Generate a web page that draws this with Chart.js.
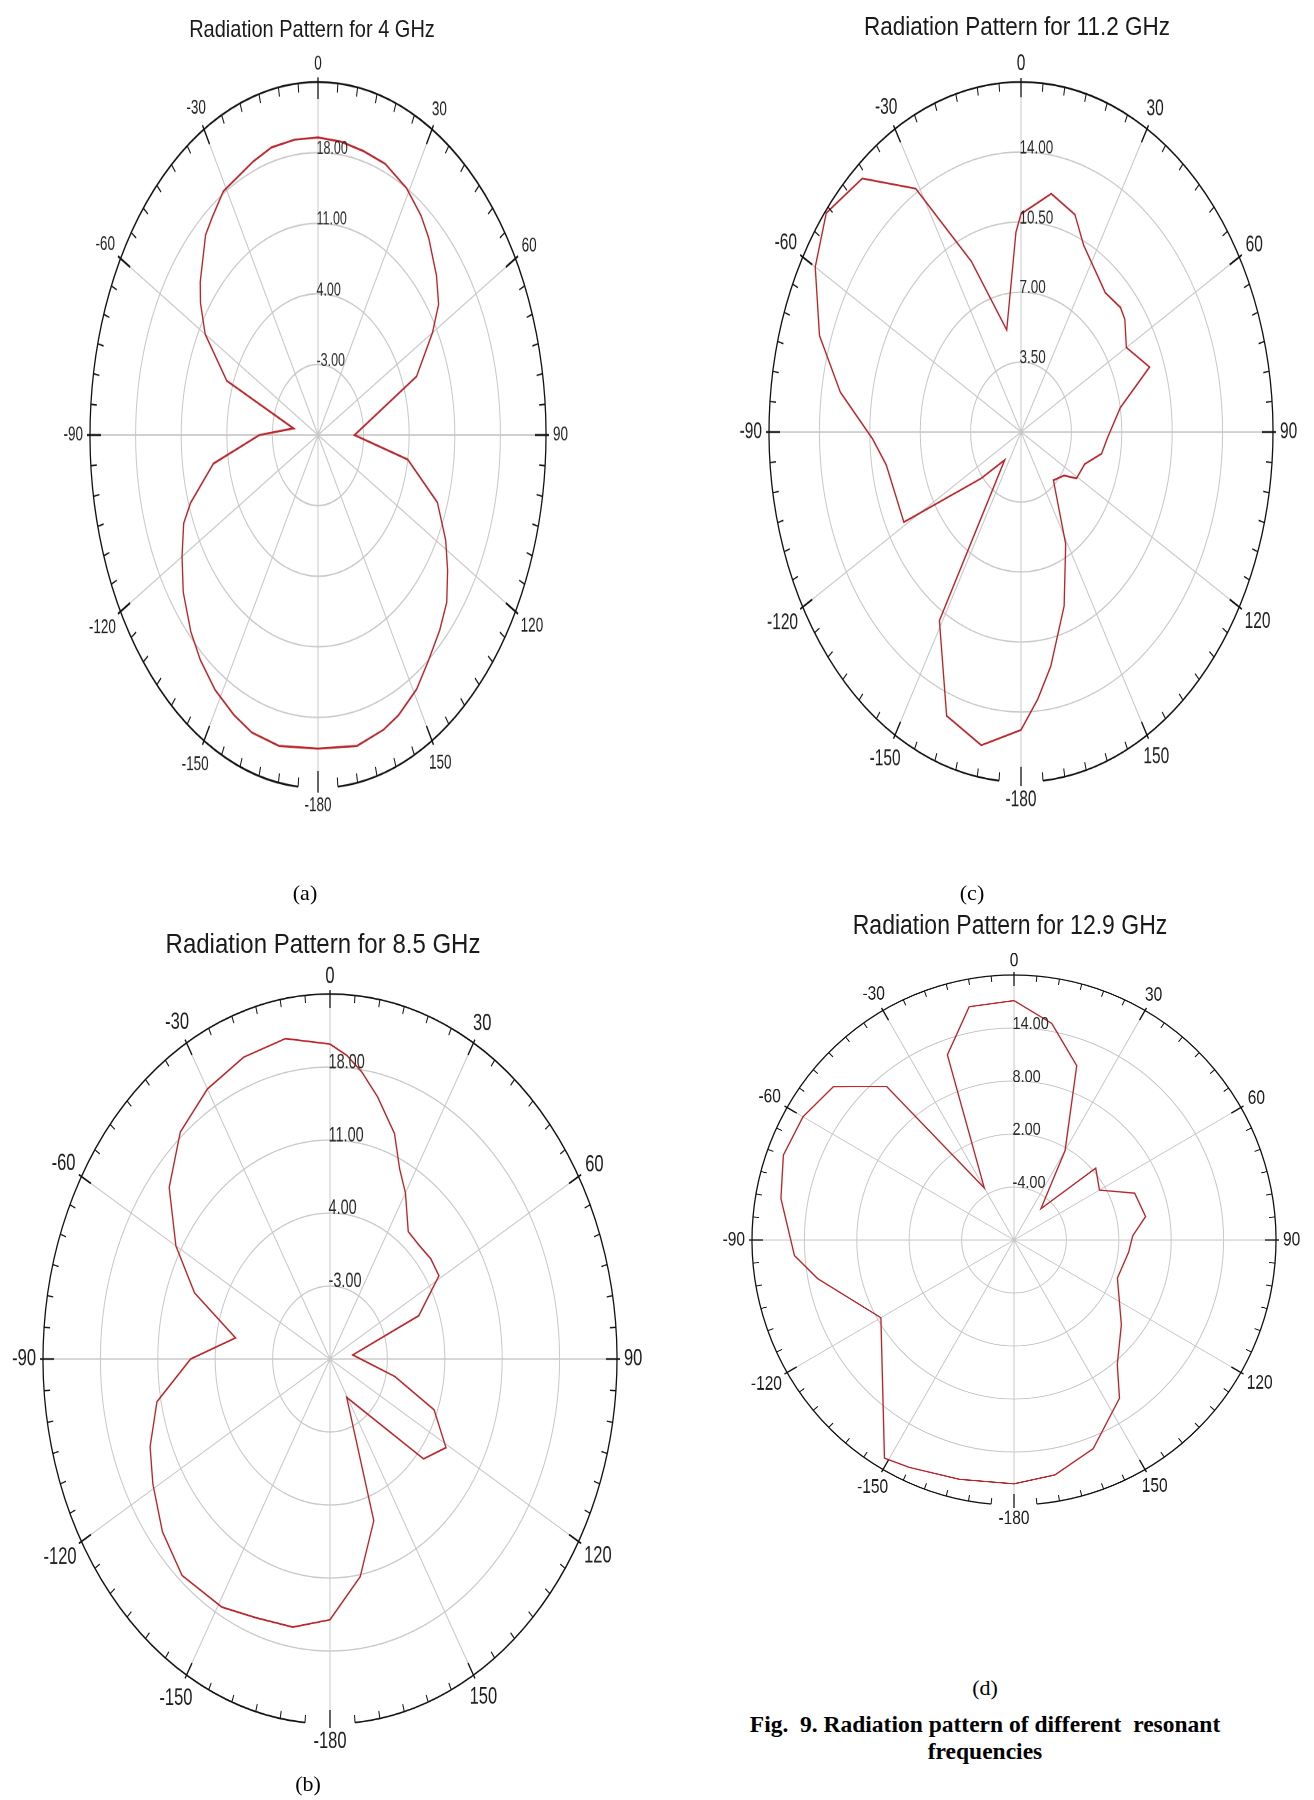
<!DOCTYPE html>
<html>
<head>
<meta charset="utf-8">
<script src="https://cdn.jsdelivr.net/npm/chart.js@4.4.1/dist/chart.umd.min.js"></script>
<style>
html,body{margin:0;padding:0;background:#ffffff;}
body{width:1314px;height:1800px;position:relative;overflow:hidden;}
canvas.polar{position:absolute;}
.ttl{position:absolute;font-family:'Liberation Sans',Arial,sans-serif;color:#1a1a1a;white-space:nowrap;}
.cap{position:absolute;font-family:'Liberation Serif','Times New Roman',serif;color:#000;white-space:pre;transform:translate(-50%,-50%);}
</style>
</head>
<body>
<script>
// ---------- shared angular labels ----------
const DEG_LABELS = Array.from({length: 360}, (_, i) => String(i));
const ANGLE_TICK_DEG  = [0, 30, 60, 90, 120, 150, 180, 210, 240, 270, 300, 330];
const ANGLE_TICK_TEXT = ['0', '30', '60', '90', '120', '150', '-180', '-150', '-120', '-90', '-60', '-30'];

// ---------- (a) 4 GHz ----------
const A_TITLE = 'Radiation Pattern for 4 GHz';
const A_MIN = -10, A_MAX = 25, A_STEP = 7;
const A_RING_TEXT = ['-3.00', '4.00', '11.00', '18.00'];
const A_ANGLES = [0, 7, 14, 21, 29, 36, 41, 49, 55, 60, 69, 90, 100, 110, 118, 124, 130, 136, 143, 149,
                  156, 161, 169, 180, -169, -161, -155, -148, -141, -135, -127, -120, -113, -109, -100, -90, -80, -69, -60, -54,
                  -50, -41, -37, -31, -20, -14, -7];
const A_GAIN   = [19.5, 19.3, 19.0, 18.8, 18.0, 16.9, 15.9, 14.1, 12.6, 10.3, 6.2, -4.4, 4.0, 9.5, 12.2, 14.0, 15.8, 16.9, 18.1, 19.4,
                  20.4, 20.9, 21.4, 21.1, 21.4, 21.2, 20.6, 19.8, 18.7, 17.6, 15.9, 14.1, 12.4, 10.7, 6.3, -1.0, -6.2, 5.0, 10.0, 12.3,
                  13.6, 16.3, 17.0, 18.2, 18.9, 19.4, 19.5];

// ---------- (c) 11.2 GHz ----------
const C_TITLE = 'Radiation Pattern for 11.2 GHz';
const C_MIN = 0, C_MAX = 17.5, C_STEP = 3.5;
const C_RING_TEXT = ['3.50', '7.00', '10.50', '14.00'];
const C_ANGLES = [0, 10, 19, 25, 35, 40, 48, 52, 60, 70, 80, 93, 101, 110, 121, 126, 137, 151, 161, 170,
                  175, 180, -170, -160, -149, -141, -130, -119, -100, -92, -81, -71, -60, -51, -41, -31, -22, -11, -2];
const C_GAIN   = [10.9, 12.1, 11.5, 10.3, 9.4, 9.1, 9.3, 9.15, 8.45, 9.5, 7.0, 6.0, 5.7, 4.7, 4.5, 3.7, 3.3, 6.4, 9.2, 11.9,
                  13.4, 14.9, 15.9, 15.1, 11.0, 1.8, 3.6, 9.3, 9.5, 10.3, 12.7, 14.8, 16.5, 17.4, 16.8, 14.2, 9.2, 5.2, 10.0];

// ---------- (b) 8.5 GHz ----------
const B_TITLE = 'Radiation Pattern for 8.5 GHz';
const B_MIN = -10, B_MAX = 25, B_STEP = 7;
const B_RING_TEXT = ['-3.00', '4.00', '11.00', '18.00'];
const B_ANGLES = [0, 4, 8, 13, 20, 25, 30, 38, 45, 52, 59, 69, 82, 102, 111, 121, 130, 151, 161, 170, 180,
                  -170, -160, -151, -139, -129, -119, -111, -101, -90, -80, -69, -60, -50, -40, -30, -20, -10];
const B_GAIN   = [20.2, 19.2, 17.8, 15.8, 13.0, 10.1, 8.4, 5.5, 5.4, 5.6, 5.5, 1.6, -7.2, -1.9, 3.6, 6.5, 4.9, -5.8, 6.4, 11.2, 15.0,
                  16.1, 16.4, 17.2, 17.5, 16.3, 14.7, 13.5, 11.5, 7.0, 1.7, 7.7, 11.7, 15.6, 18.4, 19.9, 20.8, 21.2];

// ---------- (d) 12.9 GHz ----------
const D_TITLE = 'Radiation Pattern for 12.9 GHz';
const D_MIN = -10, D_MAX = 20, D_STEP = 6;
const D_RING_TEXT = ['-4.00', '2.00', '8.00', '14.00'];
const D_ANGLES = [0, 10, 20, 30, 41, 49, 60, 69, 80, 88, 96, 110, 128, 140, 146, 159, 170, 180, -167, -155,
                  -149, -120, -101, -94, -80, -70, -60, -50, -40, -30, -20, -11];
const D_GAIN   = [17.1, 14.9, 11.0, 1.7, -5.3, 2.4, 1.3, 4.8, 5.3, 3.6, 3.2, 2.6, 5.6, 8.4, 11.6, 15.3, 17.0, 17.6, 17.8, 18.4,
                  18.8, 7.6, 12.9, 15.2, 17.1, 18.1, 17.9, 17.0, 12.7, -3.2, 12.3, 16.9];

// ---------- page layout (positions / sizes only) ----------
const LAYOUT = {
  a: {cx: 318, cy: 435, rx: 228, ry: 353, angleFont: 13.5, tickFont: 12.5, textStretch: 1.45, title: {x: 312, y: 29, size: 20}},
  c: {cx: 1021, cy: 432, rx: 252, ry: 350, angleFont: 15.5, tickFont: 13.5, textStretch: 1.45, title: {x: 1017, y: 27, size: 22.5}},
  b: {cx: 330, cy: 1359, rx: 287, ry: 365, angleFont: 16.5, tickFont: 14.5, textStretch: 1.45, title: {x: 323, y: 944, size: 24}},
  d: {cx: 1014, cy: 1240, rx: 262, ry: 265, angleFont: 15.5, tickFont: 14.5, textStretch: 1.25, title: {x: 1010, y: 925, size: 23}}
};
const CAPTIONS = [
  {text: '(a)', x: 305, y: 893, size: 22, bold: false},
  {text: '(c)', x: 972, y: 893, size: 22, bold: false},
  {text: '(b)', x: 308, y: 1784, size: 22, bold: false},
  {text: '(d)', x: 985, y: 1688, size: 22, bold: false},
  {text: 'Fig.  9. Radiation pattern of different  resonant', x: 985, y: 1724, size: 23.5, bold: true},
  {text: 'frequencies', x: 985, y: 1751, size: 23.5, bold: true}
];

const FONT = '"Liberation Sans", Arial, sans-serif';
const rad = d => d * Math.PI / 180;

// decorations drawn from the radial scale: outer ring with gap, degree ticks, labels
const polarDecor = {
  id: 'polarDecor',
  afterDraw(chart, args, o) {
    const s = chart.scales.r;
    const ctx = chart.ctx;
    const xc = s.xCenter, yc = s.yCenter;
    const R = s.getDistanceFromCenterForValue(s.max);
    const k = o.k;
    ctx.save();
    // outer ring (open around 180 deg like the source plot)
    ctx.strokeStyle = '#111';
    ctx.lineWidth = 1.3;
    ctx.beginPath();
    ctx.arc(xc, yc, R, rad(185 - 90), rad(175 - 90 + 360));
    ctx.stroke();
    // degree ticks every 5 deg
    for (let a = 0; a < 360; a += 5) {
      const major = a % 30 === 0;
      const r0 = major ? R - 11 : R - 6;
      const r1 = major ? R + 3 : R;
      const t = rad(a - 90);
      ctx.lineWidth = major ? 1.3 : 1;
      ctx.beginPath();
      ctx.moveTo(xc + r0 * Math.cos(t), yc + r0 * Math.sin(t));
      ctx.lineTo(xc + r1 * Math.cos(t), yc + r1 * Math.sin(t));
      ctx.stroke();
    }
    // angle labels
    ctx.fillStyle = '#1e1e1e';
    ctx.font = o.angleFont + 'px ' + FONT;
    ctx.textAlign = 'center';
    ctx.textBaseline = 'middle';
    ANGLE_TICK_DEG.forEach((a, i) => {
      const txt = ANGLE_TICK_TEXT[i];
      const w = ctx.measureText(txt).width;
      const h = o.angleFont * 0.72 * k;
      const t = rad(a - 90);
      const d = R + 7 + Math.abs(Math.cos(t)) * w / 2 + Math.abs(Math.sin(t)) * h / 2;
      ctx.save();
      ctx.translate(xc + d * Math.cos(t), yc + d * Math.sin(t));
      ctx.scale(1, k);
      ctx.fillText(txt, 0, 0);
      ctx.restore();
    });
    // ring value labels from the scale ticks
    ctx.font = o.tickFont + 'px ' + FONT;
    ctx.fillStyle = '#2a2a2a';
    ctx.textAlign = 'left';
    ctx.textBaseline = 'alphabetic';
    s.ticks.forEach((tk) => {
      if (!tk.label) return;
      const d = s.getDistanceFromCenterForValue(tk.value);
      ctx.save();
      ctx.translate(xc - 1.5, yc - d + 1);
      ctx.scale(1, k);
      ctx.fillText(tk.label, 0, 0);
      ctx.restore();
    });
    ctx.restore();
  }
};

function buildPanel(p, L) {
  const M = 70;
  const W = Math.round(2 * L.rx + 2 * M);
  const cv = document.createElement('canvas');
  cv.width = W; cv.height = W;
  cv.className = 'polar';
  document.body.appendChild(cv);

  const series = new Array(DEG_LABELS.length).fill(null);
  p.angles.forEach((a, i) => { series[((a % 360) + 360) % 360] = p.gain[i]; });

  const chart = new Chart(cv, {
    type: 'radar',
    data: {
      labels: DEG_LABELS,
      datasets: [{
        data: series,
        borderColor: '#b8262b',
        borderWidth: 1.35,
        pointRadius: 0,
        pointHoverRadius: 0,
        fill: false,
        spanGaps: true,
        tension: 0
      }]
    },
    options: {
      responsive: false,
      animation: false,
      devicePixelRatio: 2,
      events: [],
      layout: {padding: M},
      elements: {line: {spanGaps: true, fill: false}},
      plugins: {
        legend: {display: false},
        tooltip: {enabled: false},
        polarDecor: {angleFont: L.angleFont, tickFont: L.tickFont, k: L.textStretch * L.rx / L.ry}
      },
      scales: {
        r: {
          min: p.min,
          max: p.max,
          startAngle: 0,
          ticks: {display: false, stepSize: p.step, callback: (v, i) => (i >= 1 && i <= p.ringText.length) ? p.ringText[i - 1] : ''},
          pointLabels: {display: false},
          grid: {circular: true, lineWidth: 1,
                 color: c => (c.index >= 1 && c.index <= p.ringText.length) ? '#c8c8c8' : 'rgba(0,0,0,0)'},
          angleLines: {color: '#c8c8c8', lineWidth: c => (c.index % 30 === 0) ? 1 : 0}
        }
      }
    },
    plugins: [polarDecor]
  });

  const s = chart.scales.r;
  const R = s.getDistanceFromCenterForValue(s.max);
  const sx = L.rx / R, sy = L.ry / R;
  cv.style.transformOrigin = s.xCenter + 'px ' + s.yCenter + 'px';
  cv.style.transform = 'scale(' + sx + ',' + sy + ')';
  cv.style.left = (L.cx - s.xCenter) + 'px';
  cv.style.top = (L.cy - s.yCenter) + 'px';

  const t = document.createElement('div');
  t.className = 'ttl';
  t.textContent = p.title;
  t.style.left = L.title.x + 'px';
  t.style.top = L.title.y + 'px';
  t.style.fontSize = L.title.size + 'px';
  t.style.transform = 'translate(-50%,-50%) scaleY(1.17)';
  document.body.appendChild(t);
}

buildPanel({title: A_TITLE, min: A_MIN, max: A_MAX, step: A_STEP, ringText: A_RING_TEXT, angles: A_ANGLES, gain: A_GAIN}, LAYOUT.a);
buildPanel({title: C_TITLE, min: C_MIN, max: C_MAX, step: C_STEP, ringText: C_RING_TEXT, angles: C_ANGLES, gain: C_GAIN}, LAYOUT.c);
buildPanel({title: B_TITLE, min: B_MIN, max: B_MAX, step: B_STEP, ringText: B_RING_TEXT, angles: B_ANGLES, gain: B_GAIN}, LAYOUT.b);
buildPanel({title: D_TITLE, min: D_MIN, max: D_MAX, step: D_STEP, ringText: D_RING_TEXT, angles: D_ANGLES, gain: D_GAIN}, LAYOUT.d);

CAPTIONS.forEach(c => {
  const el = document.createElement('div');
  el.className = 'cap';
  el.textContent = c.text;
  el.style.left = c.x + 'px';
  el.style.top = c.y + 'px';
  el.style.fontSize = c.size + 'px';
  el.style.fontWeight = c.bold ? 'bold' : 'normal';
  document.body.appendChild(el);
});
</script>
</body>
</html>
